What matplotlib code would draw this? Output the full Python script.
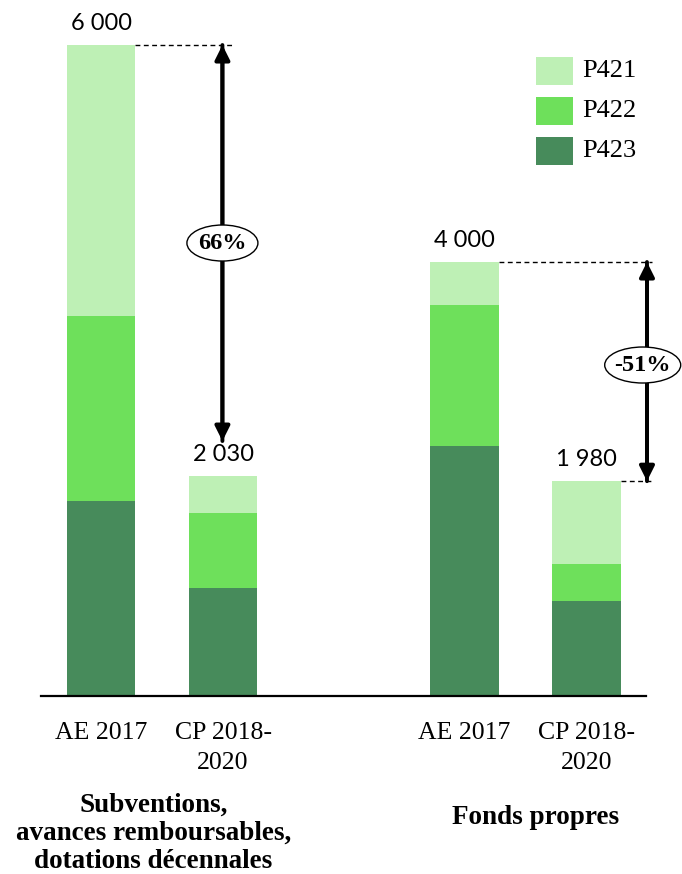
import matplotlib
matplotlib.use("Agg")
import matplotlib.pyplot as plt
from matplotlib.patches import Ellipse, Rectangle
import numpy as np

# ---- data ----
categories = ["AE 2017", "CP 2018-\n2020", "AE 2017", "CP 2018-\n2020"]
series_names = ["P421", "P422", "P423"]
p423 = [1800, 1000, 2300, 880]
p422 = [1700, 690, 1300, 340]
p421 = [2500, 340, 400, 760]
totals = [6000, 2030, 4000, 1980]
total_labels = ["6 000", "2 030", "4 000", "1 980"]
groups = ["Subventions,\navances remboursables,\ndotations décennales", "Fonds propres"]
changes = ["66%", "-51%"]

colors = {"P421": "#BEF0B5", "P422": "#6EE05B", "P423": "#478B5B"}
positions = [0, 1, 2.98, 3.98]
serif = "Liberation Serif"
sans = "Lato"

fig = plt.figure(figsize=(6.82, 8.74), dpi=100)
ax = fig.add_axes([41/682, 178/874, 605/682, 696/874])
ax.set_xlim(-0.492, 4.467)
ax.set_ylim(0, 6415)
for s in ["top", "right", "left"]:
    ax.spines[s].set_visible(False)
ax.spines["bottom"].set_linewidth(1.6)
ax.set_yticks([])

w = 0.56
ax.bar(positions, p423, width=w, color=colors["P423"], zorder=2)
ax.bar(positions, p422, width=w, bottom=p423, color=colors["P422"], zorder=2)
bot = np.array(p423) + np.array(p422)
ax.bar(positions, p421, width=w, bottom=bot, color=colors["P421"], zorder=2)

ax.set_xticks(positions)
ax.set_xticklabels(categories, fontsize=18.5, family=serif, linespacing=1.42)
ax.tick_params(axis="x", length=0, pad=19)

for x, t, lab in zip(positions, totals, total_labels):
    ax.annotate(lab, (x, t), xytext=(0, 8), textcoords="offset points",
                ha="center", va="bottom", fontsize=17, family=sans)

# group labels
ax.text(0.43, -0.197, groups[0], transform=ax.get_xaxis_transform(), ha="center",
        va="center", fontsize=19.5, family=serif, fontweight="bold", linespacing=1.17)
ax.text(3.56, -0.175, groups[1], transform=ax.get_xaxis_transform(), ha="center",
        va="center", fontsize=19.5, family=serif, fontweight="bold")

dash = (0, (3.5, 2.5))

def dashed(x0, x1, y):
    ax.plot([x0, x1], [y, y], ls=dash, color="black", lw=1.0, clip_on=False, zorder=3)

def double_arrow(x, y_top, y_low):
    for a, b in [(y_top, y_low), (y_low, y_top)]:
        ax.annotate("", xy=(x, a), xytext=(x, b),
                    arrowprops=dict(arrowstyle="-|>", color="black", lw=2.8,
                                    mutation_scale=22, shrinkA=0, shrinkB=0),
                    annotation_clip=False, zorder=4)

def badge(x, y, text, ew, eh):
    e = Ellipse((x, y), ew, eh, facecolor="white", edgecolor="black", lw=1.0,
                zorder=5, clip_on=False)
    ax.add_patch(e)
    ax.text(x, y, text, ha="center", va="center", fontsize=17.5, family=serif,
            fontweight="bold", zorder=6, clip_on=False)

# pair 1
dashed(positions[0] + w/2, positions[1] + 0.07, totals[0])
double_arrow(positions[1] - 0.005, totals[0], 2350)
badge(positions[1] - 0.005, (696 - 243) / 0.1085, changes[0], 71/122, 36/0.1085)

# pair 2
dashed(positions[2] + w/2, 4.52, totals[2])
dashed(positions[3] + w/2, 4.52, totals[3])
double_arrow(4.475, totals[2], totals[3])
badge(4.44, (696 - 365) / 0.1085, changes[1], 76/122, 36/0.1085)

# legend (manual)
for i, name in enumerate(series_names):
    yc = 874 - (71 + 40 * i)
    fig.patches.append(Rectangle((536/682, (yc - 14)/874), 37/682, 28/874,
                                 transform=fig.transFigure, facecolor=colors[name],
                                 edgecolor="none"))
    fig.text(582/682, yc/874, name, ha="left", va="center", fontsize=19, family=serif)

fig.savefig("out.png", dpi=100)
